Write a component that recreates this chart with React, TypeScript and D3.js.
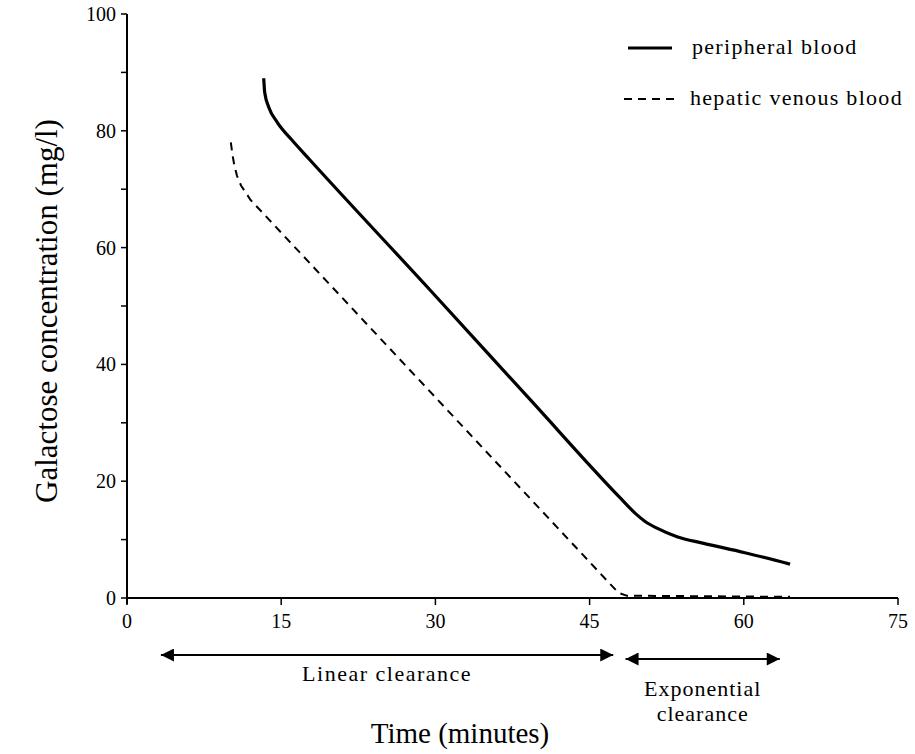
import React from 'react'
import * as d3 from 'd3'

// time (min) / concentration (mg/l)
const peripheralTime = [13.3, 13.4, 13.8, 14.6, 16, 17.8, 29.5, 39.2, 48, 49.5, 50.4, 51.5, 53.5, 56, 60, 64.5]
const peripheralConc = [89, 86.5, 84, 81.5, 78.5, 75, 52.7, 34, 17.1, 14.4, 13.1, 12.0, 10.5, 9.4, 7.8, 5.8]
const hepaticTime = [10.1, 10.25, 10.45, 10.7, 11.1, 11.6, 12, 47.8, 48.6, 56, 64.5]
const hepaticConc = [78, 76, 74, 72.3, 70.6, 69.3, 68.2, 0.9, 0.4, 0.3, 0.2]

const xTicks = [0, 15, 30, 45, 60, 75]
const yTicks = [0, 10, 20, 30, 40, 50, 60, 70, 80, 90, 100]
const yLabels = [0, 20, 40, 60, 80, 100]

// clearance phases (start, end in minutes)
const linearPhase = [3.3, 47.3]
const expPhase = [48.5, 63.5]

const font = '"Liberation Serif", "DejaVu Serif", serif'

function App () {
  const width = 915
  const height = 754
  const x = d3.scaleLinear().domain([0, 75]).range([127, 898])
  const y = d3.scaleLinear().domain([0, 100]).range([598, 14])

  const smooth = d3.line<[number, number]>()
    .x(d => x(d[0]))
    .y(d => y(d[1]))
    .curve(d3.curveMonotoneX)
  // the hepatic curve has a sharp corner where it hits zero
  const straight = d3.line<[number, number]>()
    .x(d => x(d[0]))
    .y(d => y(d[1]))

  const peripheral = peripheralTime.map((t, i) => [t, peripheralConc[i]] as [number, number])
  const hepatic = hepaticTime.map((t, i) => [t, hepaticConc[i]] as [number, number])

  const arrowY1 = 655
  const arrowY2 = 659
  const expMid = (x(expPhase[0]) + x(expPhase[1])) / 2

  return (
    <svg width={width} height={height} style={{ position: 'absolute', left: 0, top: 0 }}>
      <defs>
        <marker id='headBig' viewBox='0 0 10 10' refX='10' refY='5' markerWidth='20' markerHeight='13' orient='auto-start-reverse' markerUnits='userSpaceOnUse'>
          <path d='M0,0 L10,5 L0,10 z' fill='#000' />
        </marker>
      </defs>
      <rect width={width} height={height} fill='#fff' />

      {/* y axis */}
      <line x1={x(0)} x2={x(0)} y1={y(100)} y2={y(0) + 6} stroke='#000' strokeWidth={2} />
      {yTicks.map(t => (
        <line key={'yt' + t} x1={x(0) - 6} x2={x(0)} y1={y(t)} y2={y(t)} stroke='#000' strokeWidth={1.5} />
      ))}
      {yLabels.map(t => (
        <text key={'yl' + t} x={x(0) - 11} y={y(t)} dy='0.35em' textAnchor='end' fontFamily={font} fontSize={20}>{t}</text>
      ))}

      {/* x axis */}
      <line x1={x(0)} x2={x(75)} y1={y(0)} y2={y(0)} stroke='#000' strokeWidth={2} />
      {xTicks.map(t => (
        <line key={'xt' + t} x1={x(t)} x2={x(t)} y1={y(0)} y2={y(0) + 7} stroke='#000' strokeWidth={1.5} />
      ))}
      {xTicks.map(t => (
        <text key={'xl' + t} x={x(t)} y={y(0) + 30} textAnchor='middle' fontFamily={font} fontSize={20}>{t}</text>
      ))}

      {/* series */}
      <path d={smooth(peripheral) || ''} fill='none' stroke='#000' strokeWidth={3.2} strokeLinejoin='round' />
      <path d={straight(hepatic) || ''} fill='none' stroke='#000' strokeWidth={2} strokeDasharray='8,6' strokeLinejoin='round' />

      {/* legend */}
      <line x1={628} x2={672} y1={48} y2={48} stroke='#000' strokeWidth={3} />
      <text x={692} y={54} fontFamily={font} fontSize={22} letterSpacing={1.3}>peripheral blood</text>
      <line x1={624} x2={678} y1={99} y2={99} stroke='#000' strokeWidth={2} strokeDasharray='8,6' />
      <text x={690} y={105} fontFamily={font} fontSize={22} letterSpacing={1.3}>hepatic venous blood</text>

      {/* clearance arrows */}
      <line x1={x(linearPhase[0])} x2={x(linearPhase[1])} y1={arrowY1} y2={arrowY1} stroke='#000' strokeWidth={2}
        markerStart='url(#headBig)' markerEnd='url(#headBig)' />
      <text x={(x(linearPhase[0]) + x(linearPhase[1])) / 2} y={681} textAnchor='middle' fontFamily={font} fontSize={22} letterSpacing={1.5}>Linear clearance</text>
      <line x1={x(expPhase[0])} x2={x(expPhase[1])} y1={arrowY2} y2={arrowY2} stroke='#000' strokeWidth={2}
        markerStart='url(#headBig)' markerEnd='url(#headBig)' />
      <text x={expMid} y={696} textAnchor='middle' fontFamily={font} fontSize={22} letterSpacing={1}>Exponential</text>
      <text x={expMid} y={721} textAnchor='middle' fontFamily={font} fontSize={22} letterSpacing={1}>clearance</text>

      {/* axis titles */}
      <text x={460} y={743} textAnchor='middle' fontFamily={font} fontSize={29}>Time (minutes)</text>
      <text transform='translate(57,311) rotate(-90)' textAnchor='middle' fontFamily={font} fontSize={31}>Galactose concentration (mg/l)</text>
    </svg>
  )
}

export default App
